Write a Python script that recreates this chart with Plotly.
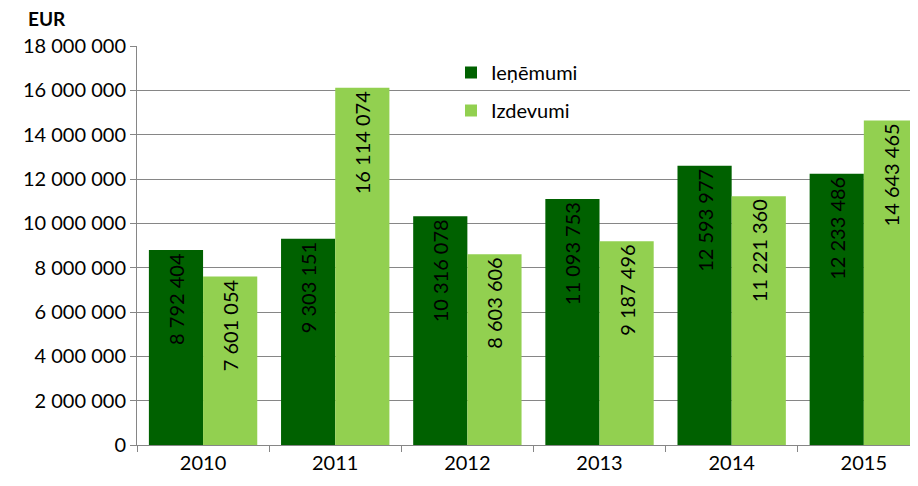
import plotly.graph_objects as go

years = ["2010", "2011", "2012", "2013", "2014", "2015"]
ienemumi = [8792404, 9303151, 10316078, 11093753, 12593977, 12233486]
izdevumi = [7601054, 16114074, 8603606, 9187496, 11221360, 14643465]
y_ticks = list(range(0, 18000001, 2000000))


def fmt(v):
    # thousands separated with spaces, e.g. 8 792 404
    return f"{v:,}".replace(",", " ")


font_family = "Lato, 'Open Sans', sans-serif"
fs = 20

fig = go.Figure()
fig.add_trace(go.Bar(
    x=years, y=ienemumi, name="Ieņēmumi",
    marker=dict(color="#006100", line=dict(width=0)),
    text=[fmt(v) for v in ienemumi], textposition="inside",
    insidetextanchor="end", textangle=-90,
    textfont=dict(color="black", size=fs, family=font_family),
    legendgroup="a",
))
fig.add_trace(go.Bar(
    x=years, y=izdevumi, name="Izdevumi",
    marker=dict(color="#92D050", line=dict(width=0)),
    text=[fmt(v) for v in izdevumi], textposition="inside",
    insidetextanchor="end", textangle=-90,
    textfont=dict(color="black", size=fs, family=font_family),
    legendgroup="b",
))

# page has an 8px body margin, so margins are offset to land the plot at the same spot
fig.update_layout(
    width=918, height=486,
    margin=dict(l=129, r=8, t=38, b=49),
    plot_bgcolor="white", paper_bgcolor="white",
    font=dict(family=font_family, size=fs, color="black"),
    barmode="group", bargap=0.18, bargroupgap=0,
    legend=dict(x=(451 - 137) / 781, y=1 - (53 - 46) / 399, xanchor="left", yanchor="top",
                bgcolor="rgba(0,0,0,0)", tracegroupgap=9,
                font=dict(size=fs)),
    annotations=[dict(text="<b>EUR</b>", xref="paper", yref="paper",
                      x=(26 - 137) / 781, y=1 + (46 - 18) / 399,
                      xanchor="left", yanchor="middle",
                      showarrow=False, font=dict(size=19))],
)

fig.update_xaxes(
    range=[-0.5, 5.41], showline=True, linecolor="#868686",
    ticks="outside", tickson="boundaries", tickcolor="#868686", ticklen=6,
    showgrid=False, automargin=False,
)
fig.update_yaxes(
    range=[0, 18000000], tickvals=y_ticks, ticktext=[fmt(v) for v in y_ticks],
    showline=True, linecolor="#868686", ticks="outside", tickcolor="#868686",
    ticklen=6, showgrid=True, gridcolor="#868686", gridwidth=1,
    zeroline=False, automargin=False,
)

fig.write_html("out.html")
